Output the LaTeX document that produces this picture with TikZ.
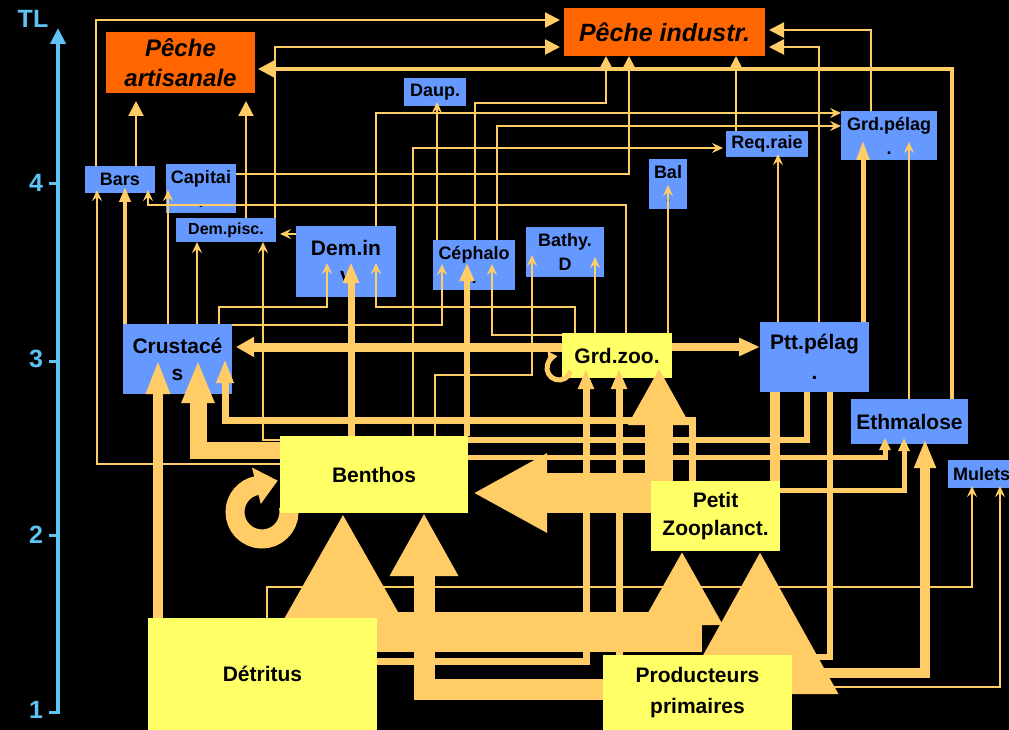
\documentclass[tikz,border=0pt]{standalone}
\usepackage{fontspec}
\setmainfont{Liberation Sans}
\usetikzlibrary{arrows.meta}
\definecolor{cblue}{RGB}{102,153,255}
\definecolor{cyel}{RGB}{255,255,102}
\definecolor{corg}{RGB}{255,102,0}
\definecolor{cacc}{RGB}{255,204,102}
\definecolor{caxis}{RGB}{95,195,245}
\pgfdeclarelayer{fg}
\pgfsetlayers{main,fg}
\tikzset{
  nbox/.style={inner sep=0pt, outer sep=0pt, anchor=north west, align=center, text=black},
  bbox/.style={nbox, fill=cblue, font=\bfseries\fontsize{18}{24}\selectfont},
  bboxL/.style={nbox, fill=cblue, font=\bfseries\fontsize{21}{27}\selectfont},
  ybox/.style={nbox, fill=cyel, font=\bfseries\fontsize{21}{28}\selectfont},
  obox/.style={nbox, fill=corg, font=\bfseries\itshape\fontsize{24}{30}\selectfont},
  lk/.style={draw=cacc, line width=2.2pt},
  lka/.style={lk, -{Stealth[length=11pt,width=10pt,inset=4pt]}},
  pka/.style={lk, -{Triangle[length=15pt,width=15pt]}},
  thk/.style={draw=cacc, line width=#1},
  axl/.style={text=caxis, font=\bfseries\fontsize{25}{30}\selectfont, inner sep=0pt},
  axisline/.style={draw=caxis, line width=#1}
}
\begin{document}
\begin{tikzpicture}[x=1pt,y=-1pt]
\useasboundingbox (0,0) rectangle (1009,730);
\fill[black] (0,0) rectangle (1009,730);

% ---- axis
\coordinate (ab) at (58,712);
\coordinate (at) at (58,28);
\draw[axisline=4pt, -{Triangle[length=16pt,width=15pt]}] (ab) -- (at);
\draw[axisline=3pt] (49,184) -- (58,184);
\draw[axisline=3pt] (49,361) -- (58,361);
\draw[axisline=3pt] (49,535) -- (58,535);
\draw[axisline=3pt] (49,712) -- (60,712);
\node[axl] (tl) at (33,19) {TL};
\node[axl] (t4) at (36,183) {4};
\node[axl] (t3) at (36,359) {3};
\node[axl] (t2) at (36,535) {2};
\node[axl] (t1) at (36,710) {1};

% ---- boxes (main layer)
\node[obox, minimum width=149pt, minimum height=61pt] (partis) at (106,32) {Pêche\\artisanale};
\node[obox, minimum width=201pt, minimum height=48pt, font=\bfseries\itshape\fontsize{25}{30}\selectfont] (pind) at (564,8) {Pêche industr.};
\node[bbox, minimum width=70pt, minimum height=27pt] (bars) at (85,166) {Bars};
\node[bbox, minimum width=70pt, minimum height=49pt] (capit) at (166,164) {Capitai\\.};
\node[bbox, minimum width=100pt, minimum height=24pt, font=\bfseries\fontsize{16}{20}\selectfont] (dpisc) at (176,218) {Dem.pisc.};
\node[bboxL, minimum width=100pt, minimum height=71pt] (dinv) at (296,226) {Dem.in\\v};
\node[bbox, minimum width=62pt, minimum height=28pt] (daup) at (404,78) {Daup.};
\node[bbox, minimum width=82pt, minimum height=50pt] (ceph) at (433,240) {Céphalo\\.};
\node[bbox, minimum width=78pt, minimum height=50pt] (bathy) at (526,227) {Bathy.\\D};
\node[bbox, minimum width=38pt, minimum height=50pt] (bal) at (649,159) {Bal\\.};
\node[bbox, minimum width=82pt, minimum height=26pt] (req) at (726,131) {Req.raie};
\node[bbox, minimum width=96pt, minimum height=49pt] (gpel) at (841,111) {Grd.pélag\\.};
\node[bboxL, minimum width=109pt, minimum height=70pt] (crus) at (123,324) {Crustacé\\s};
\node[ybox, minimum width=110pt, minimum height=45pt] (gzoo) at (562,333) {Grd.zoo.};
\node[bboxL, minimum width=109pt, minimum height=70pt, font=\bfseries\fontsize{21}{30}\selectfont] (ppel) at (760,322) {Ptt.pélag\\.};
\node[bboxL, minimum width=117pt, minimum height=45pt] (eth) at (851,399) {Ethmalose};
\node[bbox, minimum width=67pt, minimum height=28pt] (mul) at (948,460) {Mulets};

% ---- yellow boxes on the front layer
\begin{pgfonlayer}{fg}
\node[ybox, minimum width=188pt, minimum height=77pt] (benth) at (280,436) {Benthos};
\node[ybox, minimum width=129pt, minimum height=70pt] (pzoo) at (651,481) {Petit\\Zooplanct.};
\node[ybox, minimum width=229pt, minimum height=112pt] (detr) at (148,618) {Détritus};
\node[ybox, minimum width=189pt, minimum height=75pt, font=\bfseries\fontsize{21}{31}\selectfont] (prod) at (603,655) {Producteurs\\primaires};
\end{pgfonlayer}

% ---- self loop of Benthos (under the box)
\draw[thk=19pt, -{Triangle[length=22pt,width=36pt]}] ([shift={(8.6,-5.7)}]benth.south west) arc[start angle=-10,end angle=250,radius=27] -- ++(25,-6);

% ---- lines from Producteurs to the right (under the big triangle)
\draw[thk=6pt] (prod.east |- 0,657) -| (ppel.south -| 830,0);
\draw[thk=10pt, -{Triangle[length=29pt,width=20pt]}, shorten >=-5pt] (prod.east |- 0,673) -| (eth.south -| 925,0);
\draw[lka, shorten >=-2pt] (prod.east |- 0,687) -| (mul.south -| 1000,0);

% ---- big flows at the bottom
\draw[thk=40pt, -{Triangle[length=112pt,width=116pt]}] (detr.center -| 343,0) -- (benth.south -| 343,0);
\draw[thk=40pt, -{Triangle[length=74pt,width=76pt]}] (detr.east |- 0,632) -| (pzoo.south -| 682,0);
\draw[thk=21pt, -{Triangle[length=63pt,width=64pt]}] (prod.west |- 0,689) -| (benth.south -| 424,0);
\draw[thk=30pt, -{Triangle[length=143pt,width=148pt]}] (prod.south -| 760,0) -- (pzoo.south -| 760,0);
\draw[thk=40pt, -{Triangle[length=74pt,width=74pt]}, shorten >=5pt] (pzoo.west |- 0,493) -- (benth.east |- 0,493);
\draw[lka, shorten >=-2pt] (detr.north -| 267,0) |- (972,587) -- (mul.south -| 972,0);

% ---- into Grd.zoo
\draw[thk=7pt, -{Triangle[length=20pt,width=15pt]}, shorten >=-9pt] (detr.east |- 0,661) -| (gzoo.south -| 586,0);
\draw[thk=7pt, -{Triangle[length=20pt,width=15pt]}, shorten >=-9pt] (prod.north -| 619,0) -- (gzoo.south -| 619,0);
\draw[thk=28pt, -{Triangle[length=57pt,width=58pt]}, shorten >=-10pt] (pzoo.north -| 659,0) -- (gzoo.south -| 659,0);
\draw[thk=5pt, -{Triangle[length=9pt,width=12pt]}] ([shift={(8.6,-6.9)}]gzoo.south west) arc[start angle=15,end angle=262,radius=12];

% ---- into Ptt.pelag / Ethmalose
\draw[thk=6pt] (benth.east |- 0,440) -| (ppel.south -| 807,0);
\draw[thk=5pt, -{Triangle[length=12pt,width=11pt]}, shorten >=-6pt] (benth.east |- 0,457) -| (eth.south -| 885,0);
\draw[thk=5pt, -{Triangle[length=13pt,width=11pt]}, shorten >=-6pt] (pzoo.east |- 0,490) -| (eth.south -| 904,0);
\draw[thk=10pt] (pzoo.north -| 775,0) -- (ppel.south -| 775,0);
\draw[thk=8pt, -{Triangle[length=21pt,width=17pt]}] (gzoo.east |- 0,347) -- (ppel.west |- 0,347);

% ---- into Crustaces
\draw[thk=9pt, -{Triangle[length=18pt,width=19pt]}, shorten >=4pt] (gzoo.west |- 0,347) -- (crus.east |- 0,347);
\draw[thk=10pt, -{Triangle[length=34pt,width=22pt]}, shorten >=-34pt] (detr.north -| 158,0) -- (crus.south -| 158,0);
\draw[thk=17pt, -{Triangle[length=43pt,width=30pt]}, shorten >=-34pt] (benth.west |- 0,450) -| (crus.south -| 198,0);
\draw[thk=7pt, -{Triangle[length=24pt,width=16pt]}, shorten >=-35pt] (pzoo.north -| 692,0) |- (225,420) -- (crus.south -| 225,0);

% ---- middle level
\draw[thk=4pt, -{Triangle[length=15pt,width=11pt]}, shorten >=-6pt] (crus.north -| 125,0) -- (bars.south -| 125,0);
\draw[thk=7pt, -{Triangle[length=21pt,width=15pt]}, shorten >=-35pt] (benth.north -| 351,0) -- (dinv.south -| 351,0);
\draw[thk=6.5pt, -{Triangle[length=18pt,width=14pt]}, shorten >=-27pt] (benth.north -| 467,0) -- (ceph.south -| 467,0);
\draw[thk=5pt, -{Triangle[length=20pt,width=12pt]}, shorten >=-20pt] (ppel.north -| 863,0) -- (gpel.south -| 863,0);

\draw[lka, shorten >=-23pt] (crus.north -| 168,0) -- (capit.south -| 168,0);
\draw[lka] (crus.north -| 197,0) -- (dpisc.south -| 197,0);
\draw[lka, shorten >=-34pt] (crus.north -| 219,0) |- (327,307) -- (dinv.south -| 327,0);
\draw[lka, shorten >=-26pt] (crus.east |- 0,325) -| (ceph.south -| 442,0);
\draw[lka] (benth.west |- 0,440) -| (dpisc.south -| 263,0);
\draw[lka, shorten >=-3pt] (benth.west |- 0,464) -| (bars.south -| 97,0);
\draw[lka, shorten >=4pt] (dinv.west |- 0,234) -- (dpisc.east |- 0,234);
\draw[lka, shorten >=-34pt] (gzoo.north -| 575,0) |- (376,307) -- (dinv.south -| 376,0);
\draw[lka, shorten >=-26pt] (gzoo.west |- 0,335) -| (ceph.south -| 492,0);
\draw[lka, shorten >=-22pt] (benth.north -| 435,0) |- (532,375) -- (bathy.south -| 532,0);
\draw[lka, shorten >=-20pt] (gzoo.north -| 595,0) -- (bathy.south -| 595,0);
\draw[lka, shorten >=-3pt] (gzoo.north -| 626,0) |- (148,205) -- (bars.south -| 148,0);
\draw[lka, shorten >=-24pt] (gzoo.north -| 668,0) -- (bal.south -| 668,0);
\draw[lka, shorten >=-4pt] (ceph.north -| 437,0) -- (daup.south -| 437,0);
\draw[lka, shorten >=3pt] (benth.north -| 413,0) |- (req.west |- 0,148);
\draw[lka] (dinv.north -| 376,0) |- (gpel.west |- 0,113);
\draw[lka] (ceph.north -| 497,0) |- (gpel.west |- 0,126);
\draw[lka, shorten >=-3pt] (ppel.north -| 778,0) -- (req.south -| 778,0);
\draw[lka, shorten >=-18pt] (eth.north -| 909,0) -- (gpel.south -| 909,0);

% ---- into the fisheries
\draw[pka, shorten >=4pt] (bars.north -| 96,0) |- (pind.west |- 0,20);
\draw[pka, shorten >=4pt] (dpisc.north -| 275,0) |- (pind.west |- 0,47);
\draw[thk=3.5pt, -{Triangle[length=16pt,width=16pt]}, shorten >=3pt] (eth.north -| 952,0) |- (partis.east |- 0,69);
\draw[pka, shorten >=4pt] (gpel.north -| 871,0) |- (pind.east |- 0,30);
\draw[pka, shorten >=4pt] (ppel.north -| 819,0) |- (pind.east |- 0,47);
\draw[pka] (req.north -| 736,0) -- (pind.south -| 736,0);
\draw[pka] (ceph.north -| 475,0) |- (606,103) -- (pind.south -| 606,0);
\draw[pka] (capit.east |- 0,174) -| (pind.south -| 629,0);
\draw[pka, shorten >=8pt] (bars.north -| 136,0) -- (partis.south -| 136,0);
\draw[pka, shorten >=8pt] (dpisc.north -| 246,0) -- (partis.south -| 246,0);
\end{tikzpicture}
\end{document}
